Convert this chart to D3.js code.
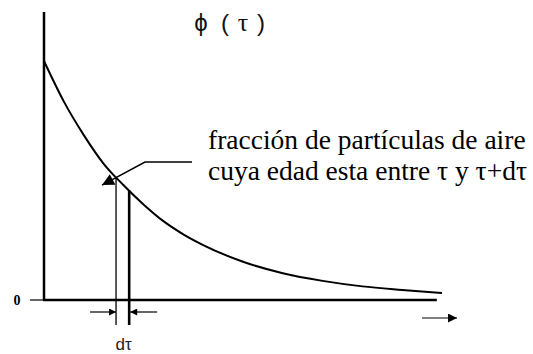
<!DOCTYPE html>
<html>
<head>
<meta charset="utf-8">
<script src="https://d3js.org/d3.v7.min.js"></script>
<style>
  body { margin: 0; background: #fff; }
  svg { display: block; }
  .serif { font-family: "Liberation Serif", "Times New Roman", Times, "DejaVu Serif", serif; }
  .sans { font-family: "Liberation Sans", Arial, "DejaVu Sans", sans-serif; }
</style>
</head>
<body>
<svg id="chart" width="533" height="354"></svg>
<script>
// age distribution curve
var tau = [0, 0.5, 1, 1.5, 2, 2.5, 3, 3.5, 4, 5, 6, 7, 8, 9, 10];
var phi = [1, 0.83, 0.69, 0.57, 0.48, 0.40, 0.33, 0.275, 0.23, 0.16, 0.112, 0.08, 0.057, 0.042, 0.029];
// the dτ slice
var slice = [1.81, 2.14];
var zeroLabel = ["0"];
var title = ["\u03d5", "(", "\u03c4", ")"];
var note = ["fracción de partículas de aire", "cuya edad esta entre \u03c4 y \u03c4+d\u03c4"];
var sliceLabel = "d\u03c4";

var svg = d3.select("#chart");

var x = d3.scaleLinear().domain([0, 10]).range([44, 442]);
var y = d3.scaleLinear().domain([0, 1]).range([300, 61]);

var points = tau.map(function (t, i) { return [t, phi[i]]; });
var line = d3.line()
    .x(function (d) { return x(d[0]); })
    .y(function (d) { return y(d[1]); })
    .curve(d3.curveMonotoneX);

var interp = function (t) {
    var i = d3.bisectRight(tau, t) - 1;
    var f = (t - tau[i]) / (tau[i + 1] - tau[i]);
    return phi[i] + f * (phi[i + 1] - phi[i]);
};

// arrow markers
var defs = svg.append("defs");
function marker(id, w, h) {
    defs.append("marker")
        .attr("id", id)
        .attr("viewBox", "0 0 10 10")
        .attr("refX", 10).attr("refY", 5)
        .attr("markerWidth", w).attr("markerHeight", h)
        .attr("markerUnits", "userSpaceOnUse")
        .attr("orient", "auto")
        .append("path").attr("d", "M0,0L10,5L0,10z").attr("fill", "#000");
}
marker("head", 10, 7);
marker("endhead", 11, 9);
marker("bighead", 17, 12);

// axes
svg.append("line")
    .attr("x1", x(0)).attr("x2", x(0))
    .attr("y1", 12).attr("y2", y(0))
    .attr("stroke", "#000").attr("stroke-width", 2.5);
svg.append("line")
    .attr("x1", x(0) - 1).attr("x2", x(9.87))
    .attr("y1", y(0)).attr("y2", y(0))
    .attr("stroke", "#000").attr("stroke-width", 2.5);
svg.append("line")
    .attr("x1", x(0) - 14).attr("x2", x(0))
    .attr("y1", y(0)).attr("y2", y(0))
    .attr("stroke", "#000").attr("stroke-width", 1.2);
svg.selectAll(".zero").data(zeroLabel).enter().append("text")
    .attr("class", "serif")
    .attr("x", x(0) - 27).attr("y", y(0) + 5)
    .attr("text-anchor", "middle")
    .attr("font-weight", "bold")
    .attr("font-size", 14)
    .text(function (d) { return d; });

// curve
svg.append("path")
    .datum(points)
    .attr("d", line)
    .attr("fill", "none")
    .attr("stroke", "#000")
    .attr("stroke-width", 2);

// slice lines
svg.selectAll(".slice").data(slice).enter().append("line")
    .attr("x1", function (d) { return x(d); })
    .attr("x2", function (d) { return x(d); })
    .attr("y1", function (d) { return y(interp(d)); })
    .attr("y2", y(0) + 25)
    .attr("stroke", "#000")
    .attr("stroke-width", function (d, i) { return i ? 2.6 : 1.3; });

// dimension arrows
var dimY = y(0) + 12;
svg.append("line")
    .attr("x1", x(slice[0]) - 26).attr("x2", x(slice[0]))
    .attr("y1", dimY).attr("y2", dimY)
    .attr("stroke", "#000").attr("stroke-width", 1.2)
    .attr("marker-end", "url(#head)");
svg.append("line")
    .attr("x1", x(slice[1]) + 28).attr("x2", x(slice[1]) + 1)
    .attr("y1", dimY).attr("y2", dimY)
    .attr("stroke", "#000").attr("stroke-width", 1.2)
    .attr("marker-end", "url(#head)");
svg.append("text")
    .attr("class", "sans")
    .attr("x", (x(slice[0]) + x(slice[1])) / 2 + 1)
    .attr("y", 350)
    .attr("text-anchor", "middle")
    .attr("font-size", 17)
    .attr("fill", "#222")
    .text(sliceLabel);

// leader arrow to the curve
var px = x(slice[0]), py = y(interp(slice[0]));
svg.append("path")
    .attr("d", "M" + 192 + "," + 162 + "L" + 145 + "," + 162 + "L" + (px - 14) + "," + (py + 8))
    .attr("fill", "none")
    .attr("stroke", "#000").attr("stroke-width", 1.5)
    .attr("marker-end", "url(#bighead)");

// title
svg.selectAll(".title").data(title).enter().append("text")
    .attr("class", function (d, i) { return i === 2 ? "serif" : "sans"; })
    .attr("x", function (d, i) { return [201, 225, 243, 261][i]; })
    .attr("y", 31)
    .attr("text-anchor", "middle")
    .attr("font-size", function (d, i) { return i === 2 ? 26 : 24; })
    .attr("fill", "#111")
    .text(function (d) { return d; });

// note
svg.selectAll(".note").data(note).enter().append("text")
    .attr("class", "serif")
    .attr("x", 208)
    .attr("y", function (d, i) { return 149 + i * 31; })
    .attr("font-size", 27.5)
    .attr("fill", "#000")
    .text(function (d) { return d; });

// small arrow under the axis
svg.append("line")
    .attr("x1", 422).attr("x2", 457)
    .attr("y1", dimY + 6).attr("y2", dimY + 6)
    .attr("stroke", "#000").attr("stroke-width", 1.2)
    .attr("marker-end", "url(#endhead)");
</script>
</body>
</html>
